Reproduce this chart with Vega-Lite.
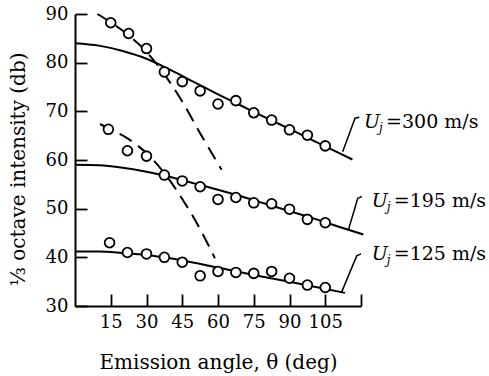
{
  "$schema": "https://vega.github.io/schema/vega-lite/v6.json",
  "width": 286,
  "height": 292,
  "autosize": {"type": "none"},
  "padding": {"left": 75, "top": 14, "right": 128, "bottom": 70},
  "config": {"view": {"stroke": null}, "font": "DejaVu Serif", "background": "white"},
  "datasets": {
    "fits": [
      {"s": "300", "deg": 0, "db": 84}, {"s": "300", "deg": 10, "db": 83.5}, {"s": "300", "deg": 20, "db": 82.4}, {"s": "300", "deg": 30, "db": 80.8}, {"s": "300", "deg": 40, "db": 78.5}, {"s": "300", "deg": 50, "db": 76.0}, {"s": "300", "deg": 60, "db": 73.5}, {"s": "300", "deg": 70, "db": 71.1}, {"s": "300", "deg": 80, "db": 68.7}, {"s": "300", "deg": 90, "db": 66.4}, {"s": "300", "deg": 100, "db": 64.0}, {"s": "300", "deg": 110, "db": 61.6}, {"s": "300", "deg": 116.4, "db": 60.1},
      {"s": "195", "deg": 0, "db": 59.0}, {"s": "195", "deg": 10, "db": 58.9}, {"s": "195", "deg": 20, "db": 58.4}, {"s": "195", "deg": 30, "db": 57.6}, {"s": "195", "deg": 40, "db": 56.5}, {"s": "195", "deg": 50, "db": 55.2}, {"s": "195", "deg": 60, "db": 53.9}, {"s": "195", "deg": 70, "db": 52.5}, {"s": "195", "deg": 80, "db": 51.0}, {"s": "195", "deg": 90, "db": 49.5}, {"s": "195", "deg": 100, "db": 48.0}, {"s": "195", "deg": 110, "db": 46.4}, {"s": "195", "deg": 121, "db": 44.7},
      {"s": "125", "deg": 0, "db": 41.2}, {"s": "125", "deg": 10, "db": 41.2}, {"s": "125", "deg": 20, "db": 40.9}, {"s": "125", "deg": 30, "db": 40.5}, {"s": "125", "deg": 40, "db": 39.8}, {"s": "125", "deg": 50, "db": 38.9}, {"s": "125", "deg": 60, "db": 37.9}, {"s": "125", "deg": 70, "db": 36.9}, {"s": "125", "deg": 80, "db": 35.9}, {"s": "125", "deg": 90, "db": 35.0}, {"s": "125", "deg": 100, "db": 34.0}, {"s": "125", "deg": 113.3, "db": 32.7}
    ],
    "dashes": [
      {"s": "300", "deg": 9.4, "db": 90}, {"s": "300", "deg": 15, "db": 88.3}, {"s": "300", "deg": 22.5, "db": 85.6}, {"s": "300", "deg": 30, "db": 82.2}, {"s": "300", "deg": 37.5, "db": 77.6}, {"s": "300", "deg": 45, "db": 72.0}, {"s": "300", "deg": 52.5, "db": 65.5}, {"s": "300", "deg": 61.5, "db": 58.0},
      {"s": "195", "deg": 10.5, "db": 67.4}, {"s": "195", "deg": 15, "db": 66.3}, {"s": "195", "deg": 22.5, "db": 64.3}, {"s": "195", "deg": 30, "db": 61.4}, {"s": "195", "deg": 37.5, "db": 57.3}, {"s": "195", "deg": 45, "db": 52.0}, {"s": "195", "deg": 52.5, "db": 45.8}, {"s": "195", "deg": 58.7, "db": 39.8}
    ],
    "points": [
      {"s": "300", "deg": 15, "db": 88.2}, {"s": "300", "deg": 22.5, "db": 86.0}, {"s": "300", "deg": 30, "db": 82.9}, {"s": "300", "deg": 37.5, "db": 78.1}, {"s": "300", "deg": 45, "db": 76.1}, {"s": "300", "deg": 52.5, "db": 74.2}, {"s": "300", "deg": 60, "db": 71.5}, {"s": "300", "deg": 67.5, "db": 72.2}, {"s": "300", "deg": 75, "db": 69.7}, {"s": "300", "deg": 82.5, "db": 68.2}, {"s": "300", "deg": 90, "db": 66.2}, {"s": "300", "deg": 97.5, "db": 65.1}, {"s": "300", "deg": 105, "db": 62.9},
      {"s": "195", "deg": 14, "db": 66.3}, {"s": "195", "deg": 22, "db": 61.9}, {"s": "195", "deg": 30, "db": 60.8}, {"s": "195", "deg": 37.5, "db": 56.9}, {"s": "195", "deg": 45, "db": 55.7}, {"s": "195", "deg": 52.5, "db": 54.5}, {"s": "195", "deg": 60, "db": 51.9}, {"s": "195", "deg": 67.5, "db": 52.3}, {"s": "195", "deg": 75, "db": 51.2}, {"s": "195", "deg": 82.5, "db": 51.0}, {"s": "195", "deg": 90, "db": 49.9}, {"s": "195", "deg": 97.5, "db": 47.8}, {"s": "195", "deg": 105, "db": 47.1},
      {"s": "125", "deg": 14.5, "db": 43.0}, {"s": "125", "deg": 22, "db": 41.0}, {"s": "125", "deg": 30, "db": 40.7}, {"s": "125", "deg": 37.5, "db": 40.0}, {"s": "125", "deg": 45, "db": 39.0}, {"s": "125", "deg": 52.5, "db": 36.2}, {"s": "125", "deg": 60, "db": 37.1}, {"s": "125", "deg": 67.5, "db": 36.9}, {"s": "125", "deg": 75, "db": 36.7}, {"s": "125", "deg": 82.5, "db": 37.1}, {"s": "125", "deg": 90, "db": 35.7}, {"s": "125", "deg": 97.5, "db": 34.3}, {"s": "125", "deg": 105, "db": 33.8}
    ],
    "leaders": [
      {"s": "300", "i": 0, "deg": 112.3, "db": 61.7}, {"s": "300", "i": 1, "deg": 117.5, "db": 68.6}, {"s": "300", "i": 2, "deg": 119.3, "db": 68.8},
      {"s": "195", "i": 0, "deg": 114.7, "db": 45.6}, {"s": "195", "i": 1, "deg": 118.6, "db": 52.1}, {"s": "195", "i": 2, "deg": 120.3, "db": 52.5},
      {"s": "125", "i": 0, "deg": 111.9, "db": 32.9}, {"s": "125", "i": 1, "deg": 118.2, "db": 40.3}, {"s": "125", "i": 2, "deg": 120.0, "db": 40.7}
    ],
    "labels": [
      {"s": "300", "deg": 121.3, "db": 66.5, "rest": "=300 m/s"},
      {"s": "195", "deg": 124.5, "db": 50.4, "rest": "=195 m/s"},
      {"s": "125", "deg": 124.5, "db": 39.5, "rest": "=125 m/s"}
    ]
  },
  "encoding": {
    "x": {
      "field": "deg", "type": "quantitative",
      "scale": {"domain": [0, 120], "nice": false, "zero": false},
      "axis": {
        "values": [15, 30, 45, 60, 75, 90, 105, 120],
        "labelExpr": "datum.value == 120 ? '' : datum.label",
        "grid": false, "tickSize": -12, "tickWidth": 1.8, "domainWidth": 2,
        "domainColor": "black", "tickColor": "black", "labelColor": "black",
        "labelFont": "DejaVu Serif", "labelFontSize": 18, "labelPadding": 19,
        "title": "Emission angle, θ (deg)", "titleFont": "DejaVu Serif", "titleFontSize": 20,
        "titleFontWeight": "normal", "titleColor": "black", "titleY": 62, "titleBaseline": "alphabetic"
      }
    },
    "y": {
      "field": "db", "type": "quantitative",
      "scale": {"domain": [30, 90], "nice": false, "zero": false},
      "axis": {
        "values": [30, 40, 50, 60, 70, 80, 90],
        "grid": false, "tickSize": -12, "tickWidth": 1.8, "domainWidth": 2,
        "domainColor": "black", "tickColor": "black", "labelColor": "black",
        "labelFont": "DejaVu Serif", "labelFontSize": 18, "labelPadding": 19,
        "title": "⅓ octave intensity (db)", "titleFont": "DejaVu Serif", "titleFontSize": 20,
        "titleFontWeight": "normal", "titleColor": "black",
        "titleX": -57, "titleY": 155, "titleAngle": -90, "titleBaseline": "middle", "titleAlign": "center"
      }
    }
  },
  "layer": [
    {
      "data": {"name": "fits"},
      "mark": {"type": "line", "color": "black", "strokeWidth": 2, "interpolate": "monotone"},
      "encoding": {"detail": {"field": "s"}}
    },
    {
      "data": {"name": "dashes"},
      "mark": {"type": "line", "color": "black", "strokeWidth": 2, "strokeDash": [14, 8], "interpolate": "monotone"},
      "encoding": {"detail": {"field": "s"}}
    },
    {
      "data": {"name": "leaders"},
      "mark": {"type": "line", "color": "black", "strokeWidth": 1.5},
      "encoding": {"detail": {"field": "s"}, "order": {"field": "i"}}
    },
    {
      "data": {"name": "points"},
      "mark": {"type": "point", "shape": "circle", "filled": false, "fill": "white", "fillOpacity": 1, "stroke": "black", "strokeWidth": 1.8, "size": 95, "opacity": 1}
    },
    {
      "data": {"name": "labels"},
      "mark": {"type": "text", "text": "U", "font": "DejaVu Serif", "fontStyle": "italic", "fontSize": 19, "align": "left", "baseline": "alphabetic", "color": "black"}
    },
    {
      "data": {"name": "labels"},
      "mark": {"type": "text", "text": "j", "font": "DejaVu Serif", "fontStyle": "italic", "fontSize": 12, "align": "left", "baseline": "alphabetic", "dx": 15, "dy": 4, "color": "black"}
    },
    {
      "data": {"name": "labels"},
      "mark": {"type": "text", "font": "DejaVu Serif", "fontSize": 19, "align": "left", "baseline": "alphabetic", "dx": 22, "color": "black"},
      "encoding": {"text": {"field": "rest"}}
    }
  ]
}
